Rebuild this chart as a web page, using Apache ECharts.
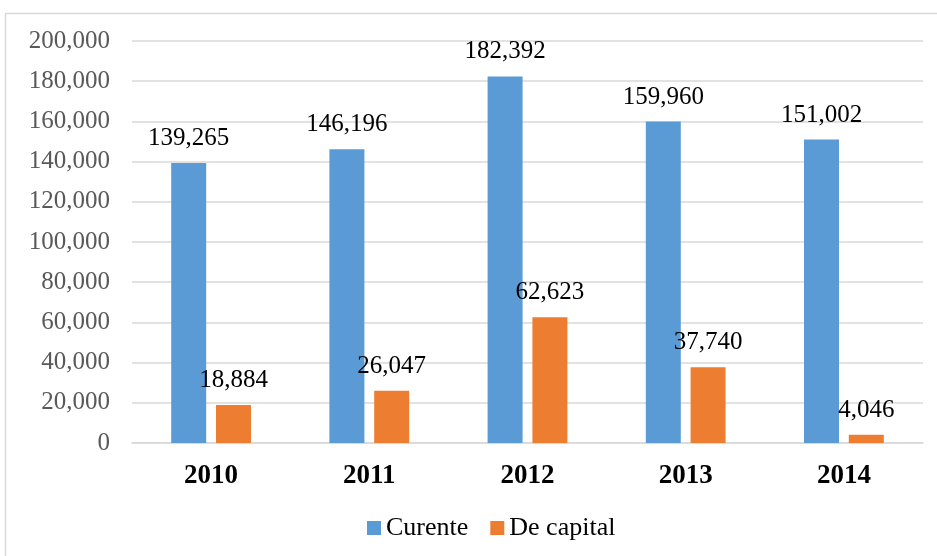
<!DOCTYPE html>
<html>
<head>
<meta charset="utf-8">
<script src="https://cdn.jsdelivr.net/npm/echarts@6/dist/echarts.min.js"></script>
<style>
  html, body { margin: 0; padding: 0; background: #fff; }
  #chart { width: 937px; height: 556px; }
</style>
</head>
<body>
<div id="chart"></div>
<script>
const years = ["2010", "2011", "2012", "2013", "2014"];
const curente = [139265, 146196, 182392, 159960, 151002];
const deCapital = [18884, 26047, 62623, 37740, 4046];
const yMax = 200000;
const yStep = 20000;

const fmt = (v) => Number(v).toLocaleString("en-US");
const serif = "Liberation Serif";

const chart = echarts.init(document.getElementById("chart"));

const dataLabel = {
  show: true,
  position: "top",
  distance: 12,
  color: "#000",
  fontFamily: serif,
  fontSize: 25,
  formatter: (p) => fmt(p.value),
};

chart.setOption({
  animation: false,
  textStyle: { fontFamily: serif },
  graphic: [
    {
      type: "rect",
      shape: { x: 5.5, y: 13.5, width: 1000, height: 700 },
      style: { fill: "none", stroke: "#d9d9d9", lineWidth: 1.5 },
      silent: true,
    },
  ],
  grid: { left: 132, right: 14, top: 41, bottom: 113 },
  legend: {
    bottom: 10,
    left: 362,
    itemWidth: 14,
    itemHeight: 14,
    itemGap: 22,
    icon: "rect",
    textStyle: { fontFamily: serif, fontSize: 26, color: "#000" },
    data: ["Curente", "De capital"],
  },
  xAxis: {
    type: "category",
    data: years,
    axisTick: { show: false },
    axisLine: { lineStyle: { color: "#d9d9d9", width: 1.5 } },
    axisLabel: {
      margin: 20,
      fontFamily: serif,
      fontSize: 27,
      fontWeight: "bold",
      color: "#000",
    },
  },
  yAxis: {
    type: "value",
    min: 0,
    max: yMax,
    interval: yStep,
    axisLine: { show: false },
    axisTick: { show: false },
    splitLine: { lineStyle: { color: "#d9d9d9", width: 1.5 } },
    axisLabel: {
      margin: 22,
      fontFamily: serif,
      fontSize: 25,
      color: "#595959",
      formatter: fmt,
    },
  },
  series: [
    {
      name: "Curente",
      type: "bar",
      data: curente,
      barWidth: 35,
      barGap: "28%",
      itemStyle: { color: "#5B9BD5" },
      label: dataLabel,
    },
    {
      name: "De capital",
      type: "bar",
      data: deCapital,
      barWidth: 35,
      itemStyle: { color: "#ED7D31" },
      label: dataLabel,
    },
  ],
});
</script>
</body>
</html>
